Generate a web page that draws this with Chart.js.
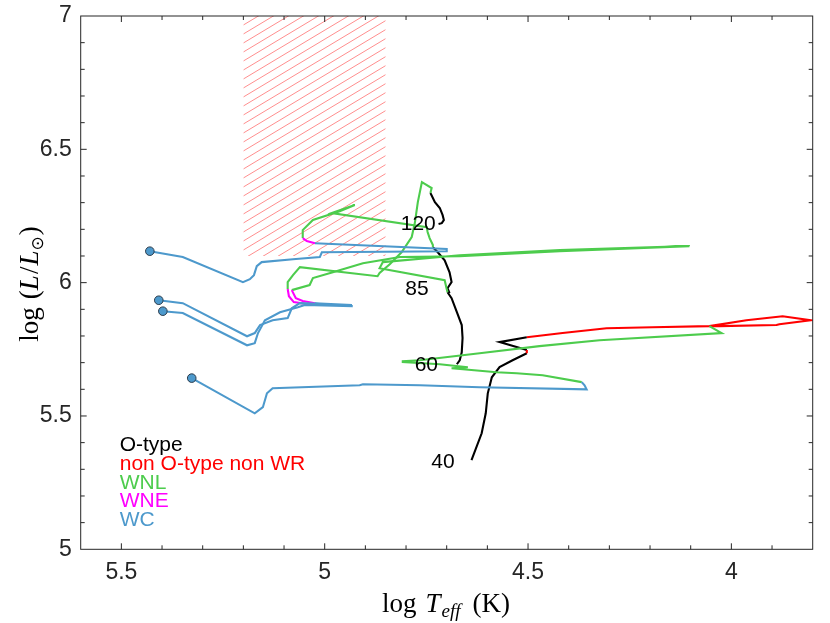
<!DOCTYPE html>
<html><head><meta charset="utf-8">
<script src="https://cdn.jsdelivr.net/npm/chart.js@4.4.1/dist/chart.umd.min.js"></script>
<style>html,body{margin:0;padding:0;background:#fff}#wrap{width:830px;height:623px;position:relative}</style>
</head><body><div id="wrap"><canvas id="c"></canvas></div>
<script>
// ---- axes ----
const xRange = [3.8, 5.6];          // log Teff (reversed)
const yRange = [5, 7];              // log L/Lsun
const xTickLabels = [5.5, 5, 4.5, 4];
const yTickLabels = [5, 5.5, 6, 6.5, 7];
// ---- phases ----
const phaseNames  = ['O-type', 'non O-type non WR', 'WNL', 'WNE', 'WC'];
const phaseColors = ['#000000', '#ff0000', '#4dcc4d', '#ff00ff', '#4d99cc'];
// ---- hatched region ----
const hatchT = [4.85, 5.2];
const hatchL = [6.1, 7];
// ---- mass labels ----
const massLabels = ['120', '85', '60', '40'];
const massLabelT = [4.770, 4.773, 4.750, 4.709];
const massLabelL = [6.219, 5.976, 5.690, 5.325];

// ---- tracks: [logTeff, logL] ----
const m120_O   = [[4.720,6.220],[4.712,6.223],[4.707,6.235],[4.710,6.253],[4.717,6.280],[4.729,6.302],[4.740,6.336]];
const m120_WNL = [[4.740,6.336],[4.737,6.355],[4.761,6.377],[4.771,6.302],[4.778,6.227],[4.786,6.171],[4.811,6.114],[4.840,6.069],[4.865,6.036],[4.870,6.024],[5.061,6.058],[5.078,6.028],[5.091,6.002],[5.091,5.976]];
const m120_WNE = [[5.091,5.976],[5.088,5.949],[5.076,5.927],[5.029,5.916]];
const m120_WC  = [[5.029,5.916],[4.931,5.912],[5.049,5.916],[5.066,5.908],[5.110,5.889],[5.147,5.859],[5.164,5.811],[5.172,5.773],[5.191,5.765],[5.349,5.886],[5.398,5.893]];

const m85_O    = [[4.693,5.961],[4.698,5.979],[4.688,6.002],[4.693,6.039],[4.705,6.084],[4.722,6.114],[4.734,6.133]];
const m85_WNL  = [[4.734,6.133],[4.734,6.141],[4.742,6.167],[4.747,6.190],[4.749,6.208],[4.983,6.261],[4.926,6.291],[4.963,6.268],[5.029,6.235],[5.054,6.197],[5.054,6.167]];
const m85_WNE  = [[5.054,6.167],[5.044,6.156],[5.024,6.148]];
const m85_WC   = [[5.024,6.148],[4.700,6.126],[4.700,6.118],[5.007,6.114],[5.012,6.096],[5.078,6.088],[5.155,6.077],[5.167,6.062],[5.174,6.028],[5.184,6.013],[5.201,6.002],[5.349,6.096],[5.430,6.118]];

const m60_O    = [[4.675,5.694],[4.668,5.709],[4.663,5.739],[4.661,5.792],[4.663,5.841],[4.675,5.889],[4.688,5.942],[4.698,5.964]];
const m60_WNL  = [[4.698,5.964],[4.700,5.976],[4.705,6.009],[4.865,6.054],[4.857,6.077],[4.668,6.103],[4.422,6.122],[4.103,6.137],[4.422,6.118],[4.668,6.099],[4.815,6.096],[4.906,6.073],[4.980,6.039],[5.029,6.017],[5.037,5.991],[5.081,5.972]];
const m60_WNE  = [[5.081,5.972],[5.071,5.942],[5.054,5.931],[5.024,5.923]];
const m60_WC   = [[5.024,5.923],[4.933,5.916],[5.061,5.923],[5.081,5.904],[5.091,5.867],[5.128,5.859],[5.159,5.841],[5.172,5.811],[5.191,5.799],[5.349,5.923],[5.408,5.934]];

const m40_O    = [[4.639,5.334],[4.614,5.435],[4.604,5.510],[4.599,5.585],[4.589,5.645],[4.570,5.683],[4.538,5.709],[4.503,5.735]];
const m40_R1   = [[4.503,5.735],[4.503,5.747]];
const m40_O2   = [[4.503,5.747],[4.570,5.777],[4.503,5.795]];
const m40_R    = [[4.503,5.795],[4.415,5.811],[4.307,5.829],[4.194,5.833],[4.054,5.837],[3.963,5.859],[3.874,5.874],[3.805,5.859],[3.882,5.844],[3.889,5.841],[4.029,5.837],[4.054,5.837]];
const m40_WNL  = [[4.054,5.837],[4.024,5.811],[4.324,5.784],[4.472,5.762],[4.619,5.735],[4.766,5.709],[4.808,5.705],[4.808,5.702],[4.717,5.694],[4.648,5.683],[4.688,5.679],[4.577,5.664],[4.528,5.660],[4.464,5.653],[4.368,5.627]];
const m40_WC   = [[4.368,5.627],[4.361,5.615],[4.356,5.600],[4.619,5.608],[4.766,5.615],[4.906,5.619],[4.914,5.615],[5.128,5.604],[5.142,5.585],[5.152,5.533],[5.172,5.510],[5.327,5.642]];

// end points of the tracks (WC endpoints)
const endT = [5.430, 5.408, 5.398, 5.327];
const endL = [6.118, 5.934, 5.893, 5.642];

// segment list: [points, phase index]  (first drawn on top)
const segments = [
  [m85_WC,4],[m60_WC,4],[m120_WC,4],[m40_WC,4],
  [m85_WNE,3],[m60_WNE,3],[m120_WNE,3],
  [m85_WNL,2],[m60_WNL,2],[m120_WNL,2],[m40_WNL,2],
  [m40_R1,1],[m40_R,1],
  [m120_O,0],[m85_O,0],[m60_O,0],[m40_O,0],[m40_O2,0]
];

const SANS = '"Liberation Sans", Arial, Helvetica, sans-serif';
const SERIF = '"Liberation Serif", "DejaVu Serif", "Times New Roman", serif';

const datasets = [{
  data: endT.map((t,i)=>({x:t, y:endL[i]})),
  showLine:false, pointRadius:4.3, pointBackgroundColor:phaseColors[4],
  pointBorderColor:'#2b3b4b', pointBorderWidth:1
}];
segments.forEach(([pts, ph]) => {
  datasets.push({
    data: pts.map(p=>({x:p[0], y:p[1]})),
    showLine:true, borderColor:phaseColors[ph], borderWidth:2.1, pointRadius:0,
    tension:0, fill:false
  });
});

const hatchPlugin = {
  id:'hatch',
  beforeDatasetsDraw(chart){
    const {ctx, scales:{x,y}} = chart;
    const x1 = x.getPixelForValue(hatchT[1]), x2 = x.getPixelForValue(hatchT[0]);
    const y1 = y.getPixelForValue(hatchL[1]), y2 = y.getPixelForValue(hatchL[0]);
    ctx.save();
    ctx.beginPath(); ctx.rect(x1, y1, x2-x1, y2-y1); ctx.clip();
    ctx.strokeStyle = 'rgba(255,80,80,0.72)'; ctx.lineWidth = 0.9;
    const slope = 0.6, gap = 9, w = x2-x1;
    for (let c = y1; c < y2 + w*slope + gap; c += gap) {
      ctx.beginPath(); ctx.moveTo(x1, c); ctx.lineTo(x2, c - w*slope); ctx.stroke();
    }
    ctx.restore();
  }
};

const framePlugin = {
  id:'frame',
  afterDatasetsDraw(chart){
    const {ctx, chartArea:a, scales:{x,y}} = chart;
    ctx.save();
    ctx.strokeStyle = '#262626'; ctx.lineWidth = 1;
    ctx.strokeRect(a.left, a.top, a.right-a.left, a.bottom-a.top);
    ctx.beginPath();
    for (let i = Math.ceil(xRange[0]*10); i <= Math.floor(xRange[1]*10); i++) {
      const px = x.getPixelForValue(i/10);
      if (px <= a.left+0.5 || px >= a.right-0.5) continue;
      const L = (i % 5 === 0) ? 6 : 4;
      ctx.moveTo(px, a.bottom); ctx.lineTo(px, a.bottom - L);
      ctx.moveTo(px, a.top); ctx.lineTo(px, a.top + L);
    }
    for (let i = Math.ceil(yRange[0]*10); i <= Math.floor(yRange[1]*10); i++) {
      const py = y.getPixelForValue(i/10);
      if (py <= a.top+0.5 || py >= a.bottom-0.5) continue;
      const L = (i % 5 === 0) ? 6 : 4;
      ctx.moveTo(a.left, py); ctx.lineTo(a.left + L, py);
      ctx.moveTo(a.right, py); ctx.lineTo(a.right - L, py);
    }
    ctx.stroke();
    ctx.restore();
  }
};

function drawParts(ctx, parts, startX, baseY){
  let cx = startX;
  parts.forEach(p => {
    ctx.font = p.font;
    if (p.gap) cx += p.gap;
    ctx.fillText(p.t, cx, baseY + (p.dy||0));
    cx += ctx.measureText(p.t).width;
  });
  return cx - startX;
}
function measureParts(ctx, parts){
  let w = 0;
  parts.forEach(p => { ctx.font = p.font; w += (p.gap||0) + ctx.measureText(p.t).width; });
  return w;
}

const textPlugin = {
  id:'texts',
  afterDraw(chart){
    const {ctx, chartArea:a, scales:{x,y}} = chart;
    ctx.save();
    // mass labels
    ctx.fillStyle = '#000'; ctx.font = '21px ' + SANS;
    ctx.textAlign = 'center'; ctx.textBaseline = 'middle';
    massLabels.forEach((m,i)=>{
      ctx.fillText(m, x.getPixelForValue(massLabelT[i]), y.getPixelForValue(massLabelL[i]));
    });
    // legend text
    ctx.textAlign = 'left'; ctx.textBaseline = 'alphabetic';
    ctx.font = '21px ' + SANS;
    phaseNames.forEach((n,i)=>{
      ctx.fillStyle = phaseColors[i];
      ctx.fillText(n, a.left + 39, a.bottom - 98.6 + i*18.9);
    });
    // x title: log T_eff (K)
    ctx.fillStyle = '#000';
    const F = 27;
    const xParts = [
      {t:'log', font: F+'px '+SERIF},
      {t:'T', font:'italic '+F+'px '+SERIF, gap:9},
      {t:'eff', font:'italic '+Math.round(F*0.72)+'px '+SERIF, dy:5, gap:1},
      {t:'(K)', font: F+'px '+SERIF, gap:12}
    ];
    const wx = measureParts(ctx, xParts);
    drawParts(ctx, xParts, 446 - wx/2, 612);
    // y title: log (L/L_sun)
    const yParts = [
      {t:'log', font: F+'px '+SERIF},
      {t:'(', font: F+'px '+SERIF, gap:8},
      {t:'L', font:'italic '+F+'px '+SERIF},
      {t:'/', font: F+'px '+SERIF, gap:1},
      {t:'L', font:'italic '+F+'px '+SERIF, gap:1},
      {t:'\u2299', font: Math.round(F*0.62)+'px "DejaVu Sans", '+SERIF, dy:5},
      {t:')', font: F+'px '+SERIF, gap:1}
    ];
    const wy = measureParts(ctx, yParts);
    ctx.translate(38, 284);
    ctx.rotate(-Math.PI/2);
    drawParts(ctx, yParts, -wy/2, 0);
    ctx.restore();
  }
};

new Chart(document.getElementById('c'), {
  type:'scatter',
  data:{datasets},
  options:{
    responsive:true, maintainAspectRatio:false, animation:false,
    layout:{padding:{left:0, top:16, right:17.3, bottom:0}},
    plugins:{legend:{display:false}, tooltip:{enabled:false}},
    scales:{
      x:{type:'linear', reverse:true, min:xRange[0], max:xRange[1],
         grid:{display:false, drawTicks:false}, border:{display:false},
         afterBuildTicks:s=>{ s.ticks = xTickLabels.map(v=>({value:v})); },
         afterFit:s=>{ s.height = 73.7; s.paddingLeft = 0; s.paddingRight = 0; },
         ticks:{font:{family:SANS, size:23}, color:'#262626', padding:10, maxRotation:0, autoSkip:false, callback:v=>String(v)}},
      y:{type:'linear', min:yRange[0], max:yRange[1],
         grid:{display:false, drawTicks:false}, border:{display:false},
         afterBuildTicks:s=>{ s.ticks = yTickLabels.map(v=>({value:v})); },
         afterFit:s=>{ s.width = 80.7; s.paddingTop = 0; s.paddingBottom = 0; },
         ticks:{font:{family:SANS, size:23}, color:'#262626', padding:9, autoSkip:false, callback:v=>String(v)}}
    }
  },
  plugins:[hatchPlugin, framePlugin, textPlugin]
});
</script></body></html>
